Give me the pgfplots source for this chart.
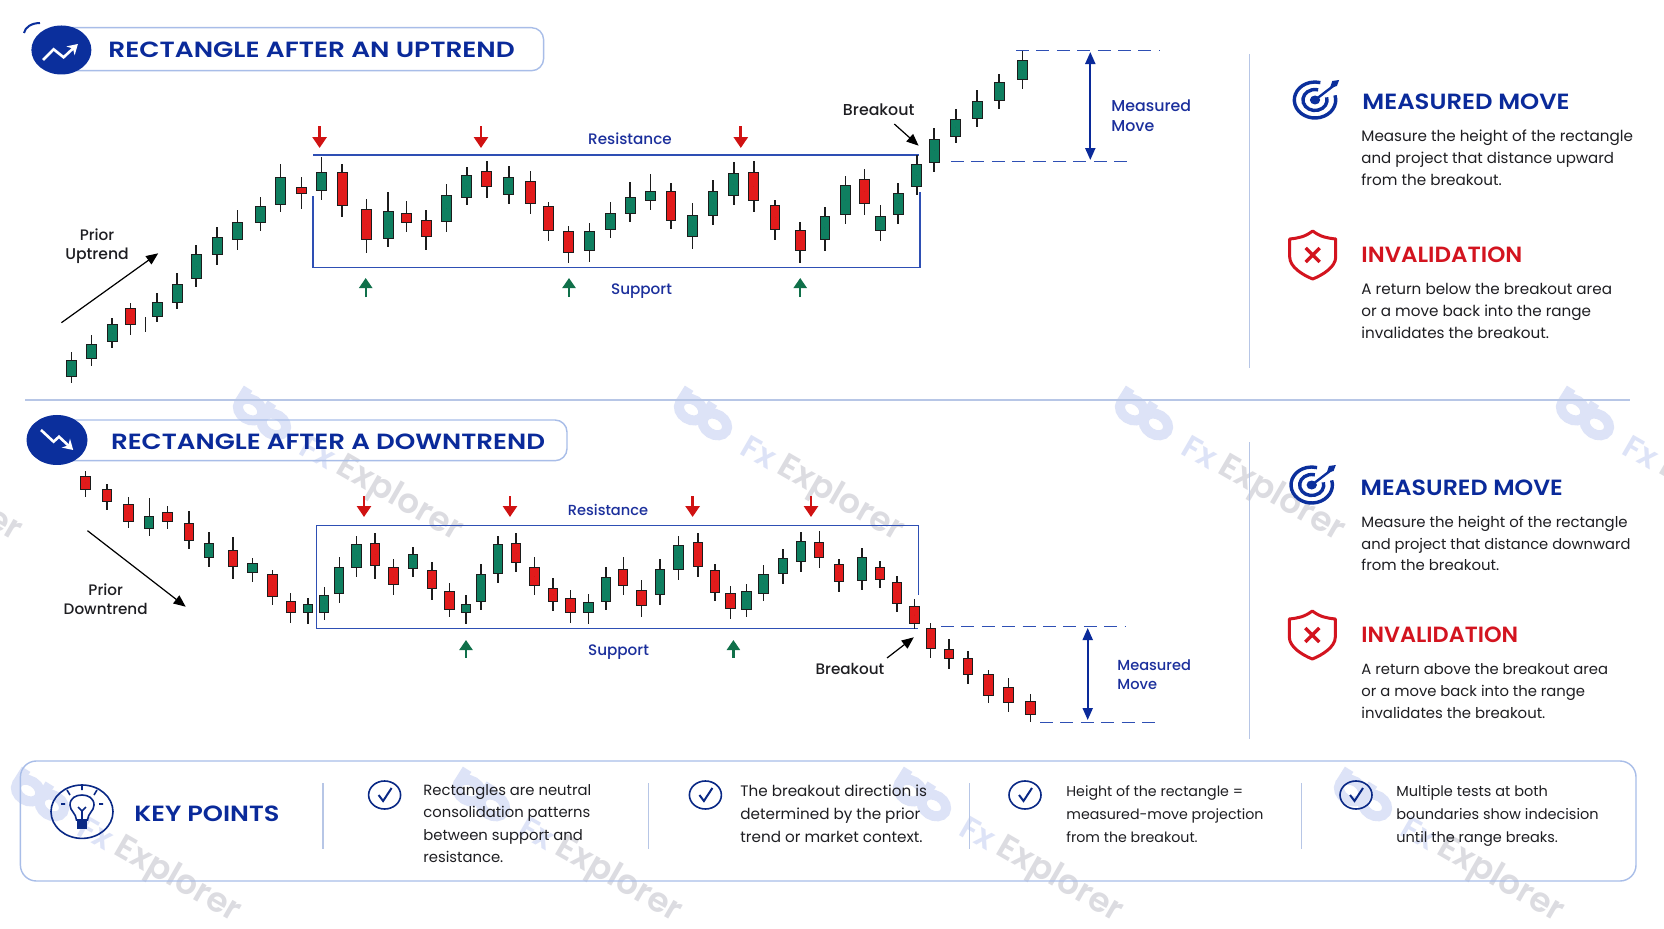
\documentclass[border=0pt]{standalone}
\usepackage{fontspec}
\setmainfont{Poppins}
\newfontfamily\popm{Poppins Medium}
\newfontfamily\pops{Poppins SemiBold}
\usepackage{graphicx}
\usepackage{pgfplots}
\usepackage{pgfplotstable}
\pgfplotsset{compat=1.18}
\usetikzlibrary{arrows.meta}
\definecolor{cgreen}{HTML}{0F7F60}
\definecolor{cred}{HTML}{E21B1B}
\definecolor{cwick}{HTML}{1C1C1C}
\definecolor{navy}{HTML}{0A2A9A}
\definecolor{navyd}{HTML}{0B2F9C}
\definecolor{rectb}{HTML}{2E4FB4}
\definecolor{pill}{HTML}{A8BDE8}
\definecolor{sep}{HTML}{B7C6E6}
\definecolor{arrred}{HTML}{D01212}
\definecolor{arrgrn}{HTML}{10704A}
\definecolor{lbl}{HTML}{1B2F9C}
\definecolor{invred}{HTML}{D3141F}
\definecolor{wmblue}{HTML}{DDE3F7}
\definecolor{wmgrey}{HTML}{DCDCE1}
\definecolor{txt}{HTML}{1E1E22}

% x wt bt bb wb c   (c: 0 green, 1 red, 2 wick only); read in zoomed pixels
\pgfplotstableread{
x wt bt bb wb c
200 1055 1080 1130 1150 0
256 1005 1032 1076 1097 0
314 953 972 1027 1045 0
366 908 925 975 1006 1
408 950 970 975 997 2
440 878 905 952 967 0
496 818 851 908 928 0
549 735 763 838 862 0
608 681 711 766 795 0
665 630 667 719 750 0
730 590 618 668 693 0
786 492 530 614 637 0
844 531 560 582 628 1
900 472 515 572 599 0
958 492 517 617 651 1
1026 596 627 720 760 1
1087 575 634 716 740 0
1138 602 639 668 696 1
1193 630 660 711 750 1
1250 551 585 667 697 0
1307 500 526 593 614 0
1363 482 512 562 593 1
1425 497 530 585 613 0
1486 514 542 613 643 1
}\tA
\pgfplotstableread{
x wt bt bb wb c
20 516 529 603 632 1
66 587 603 668 700 1
114 580 603 664 696 0
162 517 548 600 625 0
208 457 500 551 576 0
255 432 484 512 539 0
302 459 484 572 596 1
352 519 556 622 656 0
399 450 484 559 585 0
447 395 430 498 524 0
493 392 427 513 547 1
542 510 525 600 630 1
600 575 600 664 698 1
657 530 558 629 662 0
705 438 465 555 581 0
748 416 447 523 555 1
785 525 557 602 633 0
826 459 488 555 581 0
869 375 403 470 496 0
909 293 326 398 427 0
959 238 266 320 340 0
1008 180 212 266 290 0
1059 132 156 213 236 0
1113 62 91 150 178 0
}\tB
\pgfplotstableread{
x wt bt bb wb c
239 212 228 269 290 1
300 251 268 306 330 1
360 290 312 367 385 1
418 295 347 388 407 0
469 317 335 367 388 1
529 333 368 422 448 1
585 396 429 473 502 0
653 410 449 500 538 1
707 474 490 518 545 0
763 511 523 591 616 1
814 580 604 640 668 1
862 594 612 640 671 0
908 560 585 638 661 0
950 472 501 582 608 0
998 408 432 503 530 0
1050 400 430 497 537 1
1102 478 501 555 586 1
1157 441 463 506 530 0
1209 487 510 567 600 1
1259 550 574 629 651 1
1305 584 611 640 672 0
1347 492 523 607 631 0
1394 408 432 523 550 0
1445 400 428 490 516 1
1497 470 500 559 586 1
}\tC
\pgfplotstableread{
x wt bt bb wb c
30 413 444 485 513 1
70 449 473 520 549 1
112 461 487 520 551 0
152 380 411 487 510 0
192 352 387 438 466 1
234 421 451 499 531 1
277 358 388 466 494 0
319 288 316 391 419 0
364 280 307 380 410 1
403 372 391 459 482 1
439 439 459 506 537 1
476 431 454 510 531 0
515 375 402 461 484 0
560 328 355 403 433 0
602 276 304 367 396 0
644 274 305 354 383 1
689 357 372 425 455 1
743 325 351 424 449 0
784 362 381 420 445 1
823 408 425 492 516 1
864 476 498 552 568 1
901 550 563 628 654 1
943 598 627 656 687 1
987 632 654 706 731 1
1034 689 703 769 790 1
1080 715 740 789 815 1
1131 762 783 826 846 1
}\tD

\pgfplotsset{nomark/.style={forget plot,only marks,mark size=0pt,mark options={draw=none,fill=none},
  error bars/.cd,y dir=both,y explicit,error mark=none}}
% #1 table, #2 x offset, #3 y offset, #4 x scale, #5 body width in pt
\newcommand\candles[5]{%
\addplot[nomark,/pgfplots/error bars/error bar style={line width=0.75pt,color=cwick}]
  table[x expr=#2+\thisrow{x}/#4,y expr=#3+(\thisrow{wt}+\thisrow{wb})/6,y error expr=(\thisrow{wb}-\thisrow{wt})/6]{#1};
\addplot[restrict expr to domain={\thisrow{c}}{0:1},nomark,/pgfplots/error bars/error bar style={line width=#5,color=cwick}]
  table[x expr=#2+\thisrow{x}/#4,y expr=#3+(\thisrow{bt}+\thisrow{bb})/6,y error expr=(\thisrow{bb}-\thisrow{bt})/6]{#1};
\addplot[restrict expr to domain={\thisrow{c}}{0:0},nomark,/pgfplots/error bars/error bar style={line width=#5-1pt,color=cgreen}]
  table[x expr=#2+\thisrow{x}/#4,y expr=#3+(\thisrow{bt}+\thisrow{bb})/6,y error expr=(\thisrow{bb}-\thisrow{bt})/6-1]{#1};
\addplot[restrict expr to domain={\thisrow{c}}{1:1},nomark,/pgfplots/error bars/error bar style={line width=#5-1pt,color=cred}]
  table[x expr=#2+\thisrow{x}/#4,y expr=#3+(\thisrow{bt}+\thisrow{bb})/6,y error expr=(\thisrow{bb}-\thisrow{bt})/6-1]{#1};
}
\newcommand\seg[2]{\addplot[forget plot,#1] coordinates {#2};}
\newcommand\tbl[4][]{\node[anchor=base west,inner sep=0pt,#1] at (axis cs:#2,#3) {#4};}
\newcommand\tcl[4][]{\node[anchor=base,inner sep=0pt,#1] at (axis cs:#2,#3) {#4};}
\newcommand\fs[1]{\fontsize{#1pt}{#1pt}\selectfont}
\newcommand\sx[2]{\scalebox{#1}[1]{#2}}
\tikzset{
  rarr/.style={draw=arrred,fill=arrred,line width=1.4pt,-{Triangle[length=5.5pt,width=7pt]}},
  garr/.style={draw=arrgrn,fill=arrgrn,line width=1.1pt,-{Triangle[length=5pt,width=6.5pt]}},
  barr/.style={draw=black,fill=black,line width=.6pt,-{Triangle[length=6pt,width=5pt]}},
  darr/.style={draw=navy,fill=navy,line width=1pt,{Triangle[length=6pt,width=5pt]}-{Triangle[length=6pt,width=5pt]}},
  dsh/.style={draw=rectb,line width=.6pt,dash pattern=on 6.5pt off 3.7pt},
  rct/.style={draw=rectb,line width=.75pt},
}
\newcommand\wm[2]{% logo centre
 \begin{scope}[shift={(#1,#2)},rotate=-32]
  \draw[wmblue,line width=5pt] (-14,0) ellipse (13 and 10);
  \draw[wmblue,line width=5pt] (14,0) ellipse (13 and 10);
  \draw[wmblue,line width=5pt] (-27,0) -- (-27,-17);
  \draw[wmblue,line width=5pt] (1,0) -- (1,-17);
 \end{scope}
 \node[rotate=-30,text=wmblue,inner sep=0] at (#1+56,#2+35) {\pops\fs{16}Fx};
 \node[rotate=-30,text=wmgrey,inner sep=0] at (#1+137,#2+83) {\pops\fs{17}Explorer};
}
\newcommand\target[2]{%
 \begin{scope}[shift={(#1,#2)},xscale=1.15]
  \draw[navyd,line width=1.7pt] (-15:18) arc[start angle=-15,end angle=285,radius=18];
  \draw[navyd,line width=1.7pt] (-15:10.5) arc[start angle=-15,end angle=285,radius=10.5];
  \fill[navyd] (0,0) circle (4.5);
  \draw[navyd,line width=1.2pt] (0,0) -- (17,-15);
  \fill[navyd] (13,-12) -- (15,-19) -- (21,-20) -- (19,-14) -- cycle;
 \end{scope}}
\newcommand\shield[2]{%
 \begin{scope}[shift={(#1,#2)}]
  \draw[invred,line width=1.5pt,line join=round] (0,-24) .. controls (-8,-18) and (-14,-17) .. (-23,-16) -- (-23,2) .. controls (-23,12) and (-10,20) .. (0,24) .. controls (10,20) and (23,12) .. (23,2) -- (23,-16) .. controls (14,-17) and (8,-18) .. (0,-24) -- cycle;
  \draw[invred,line width=1.7pt] (-7,-7) -- (7,7) (-7,7) -- (7,-7);
 \end{scope}}
\newcommand\chk[2]{%
 \begin{scope}[shift={(#1,#2)}]
  \draw[navyd!85!black,line width=.8pt] (0,0) ellipse (16 and 14);
  \draw[navyd!85!black,line width=1pt] (-6,0) -- (-1.5,6) -- (7,-7);
 \end{scope}}
\begin{document}
\begin{tikzpicture}
\useasboundingbox (0,0) rectangle (832pt,464pt);
\fill[white] (0,0) rectangle (832pt,464pt);
% watermark beneath everything
\begin{scope}
\clip (0,0) rectangle (832pt,464pt);
\begin{scope}[shift={(0,464pt)},x=.5pt,y=-.5pt]
\foreach \a in {-179,262,703,1144,1585} {\wm{\a}{417}}
\foreach \a in {40,481,922,1363} {\wm{\a}{798}}
\end{scope}
\end{scope}
\begin{axis}[at={(0,0)},anchor=south west,scale only axis,width=832pt,height=464pt,
  xmin=0,xmax=1664,ymin=0,ymax=928,y dir=reverse,hide axis,clip=false]
% ---- frames
\seg{draw=sep,line width=.6pt}{(25,400) (1630,400)}
\seg{draw=sep,line width=.6pt}{(1249.5,54) (1249.5,368)}
\seg{draw=sep,line width=.6pt}{(1249.5,442) (1249.5,739)}
% ---- upper pattern
\seg{rct}{(313,155) (919,155)}
\seg{rct}{(313,196) (313,267.3) (920,267.3) (920,191.7)}
\candles{\tA}{0}{0}{2.8}{5.5pt}
\candles{\tB}{540}{30}{2.306}{5.4pt}
\seg{rarr}{(319.6,126) (319.6,148)}
\seg{rarr}{(481,126) (481,148)}
\seg{rarr}{(740.8,126) (740.8,148)}
\seg{garr}{(365.7,297) (365.7,278)}
\seg{garr}{(569,297) (569,278)}
\seg{garr}{(800.2,297) (800.2,278)}
\seg{barr}{(61.4,322.7) (158.2,253.3)}
\seg{barr}{(894.3,124) (918.6,145.7)}
\seg{darr}{(1090.3,52) (1090.3,160)}
\seg{dsh}{(1016,50.8) (1160,50.8)}
\seg{dsh}{(951,161.3) (1130,161.3)}
\tcl[text=lbl]{630}{144.5}{\popm\fs{7.6}Resistance}
\tcl[text=lbl]{641.5}{294.5}{\popm\fs{7.6}Support}
\tcl[text=txt]{878.7}{115.5}{\popm\fs{7.9}Breakout}
\tbl[text=lbl]{1111}{111}{\popm\fs{7.9}Measured}
\tbl[text=lbl]{1111}{131}{\popm\fs{7.9}Move}
\tcl[text=txt]{97}{240}{\popm\fs{7.6}Prior}
\tcl[text=txt]{97}{259.5}{\popm\fs{7.8}Uptrend}
% ---- lower pattern
\seg{rct}{(316.4,598) (316.4,525.3) (918.6,525.3) (918.6,595)}
\seg{rct}{(316.4,588) (316.4,628.7) (918,628.7)}
\candles{\tC}{0}{400}{2.8}{5.2pt}
\candles{\tD}{540}{440}{2.306}{5.2pt}
\seg{rarr}{(364,496) (364,517)}
\seg{rarr}{(510,496) (510,517)}
\seg{rarr}{(692.6,496) (692.6,517)}
\seg{rarr}{(811,496) (811,517)}
\seg{garr}{(466,657.7) (466,640)}
\seg{garr}{(733.4,657.7) (733.4,640)}
\seg{barr}{(87.5,530.7) (185.7,606.7)}
\seg{barr}{(887,658) (913.8,637.3)}
\seg{darr}{(1087.7,628) (1087.7,720)}
\seg{dsh}{(941,626.7) (1126,626.7)}
\seg{dsh}{(1040,722.2) (1159,722.2)}
\tcl[text=lbl]{608}{515}{\popm\fs{7.3}Resistance}
\tcl[text=lbl]{618.5}{655}{\popm\fs{7.6}Support}
\tcl[text=txt]{850}{674.5}{\popm\fs{7.6}Breakout}
\tbl[text=lbl]{1117}{670}{\popm\fs{7.3}Measured}
\tbl[text=lbl]{1117}{689}{\popm\fs{7.3}Move}
\tcl[text=txt]{105.7}{595.5}{\popm\fs{7.6}Prior}
\tcl[text=txt]{105.7}{614}{\popm\fs{7.6}Downtrend}
% ---- right panels
\tbl[text=navy]{1362}{109.5}{\pops\fs{11}\sx{1.107}{MEASURED MOVE}}
\tbl[text=txt]{1361}{141}{\fs{7.6}Measure the height of the rectangle}
\tbl[text=txt]{1361}{163}{\fs{7.5}and project that distance upward}
\tbl[text=txt]{1361}{185}{\fs{7.6}from the breakout.}
\tbl[text=invred]{1361}{262}{\pops\fs{11}\sx{1.047}{INVALIDATION}}
\tbl[text=txt]{1361}{294.5}{\fs{7.6}A return below the breakout area}
\tbl[text=txt]{1361}{316}{\fs{7.6}or a move back into the range}
\tbl[text=txt]{1361}{338}{\fs{7.6}invalidates the breakout.}
\tbl[text=navy]{1360.3}{495}{\pops\fs{11}\sx{1.08}{MEASURED MOVE}}
\tbl[text=txt]{1361}{527.5}{\fs{7.45}Measure the height of the rectangle}
\tbl[text=txt]{1361}{549}{\fs{7.35}and project that distance downward}
\tbl[text=txt]{1361}{570}{\fs{7.45}from the breakout.}
\tbl[text=invred]{1361}{642.7}{\pops\fs{11}\sx{1.02}{INVALIDATION}}
\tbl[text=txt]{1361}{674.5}{\fs{7.4}A return above the breakout area}
\tbl[text=txt]{1361}{696}{\fs{7.4}or a move back into the range}
\tbl[text=txt]{1361}{718}{\fs{7.45}invalidates the breakout.}
% ---- key points
\seg{draw=sep,line width=.6pt}{(323,783) (323,849)}
\seg{draw=sep,line width=.6pt}{(648.6,783) (648.6,849)}
\seg{draw=sep,line width=.6pt}{(969.3,783) (969.3,849)}
\seg{draw=sep,line width=.6pt}{(1301.4,783) (1301.4,849)}
\tbl[text=navy]{134}{821}{\pops\fs{11}\sx{1.165}{KEY POINTS}}
\tbl[text=txt]{423}{795}{\fs{7.4}Rectangles are neutral}
\tbl[text=txt]{423}{817.5}{\fs{7.4}consolidation patterns}
\tbl[text=txt]{423}{840}{\fs{7.4}between support and}
\tbl[text=txt]{423}{862.5}{\fs{7.4}resistance.}
\tbl[text=txt]{740}{796.5}{\fs{7.6}The breakout direction is}
\tbl[text=txt]{740}{819.5}{\fs{7.6}determined by the prior}
\tbl[text=txt]{740}{842}{\fs{7.6}trend or market context.}
\tbl[text=txt]{1066}{796.5}{\fs{7.1}Height of the rectangle =}
\tbl[text=txt]{1066}{819.5}{\fs{7.1}measured-move projection}
\tbl[text=txt]{1066}{842}{\fs{7.1}from the breakout.}
\tbl[text=txt]{1396}{796.5}{\fs{7.25}Multiple tests at both}
\tbl[text=txt]{1396}{819.5}{\fs{7.25}boundaries show indecision}
\tbl[text=txt]{1396}{842}{\fs{7.25}until the range breaks.}
\tbl[text=navy]{108}{57.5}{\pops\fs{11}\sx{1.2}{RECTANGLE AFTER AN UPTREND}}
\tbl[text=navy]{110.7}{449}{\pops\fs{11}\sx{1.187}{RECTANGLE AFTER A DOWNTREND}}
\end{axis}
% ---- icons and frames
\begin{scope}[shift={(0,464pt)},x=.5pt,y=-.5pt]
\draw[pill,line width=.7pt,rounded corners=8pt] (20.4,761) rectangle (1636,881);
\draw[pill,line width=.7pt,rounded corners=6pt] (60,27.7) -- (543.6,27.7) -- (543.6,70.7) -- (60,70.7);
\draw[pill,line width=.7pt,rounded corners=6pt] (60,420) -- (567,420) -- (567,460.7) -- (60,460.7);
\fill[navyd] (61.4,50) ellipse (30 and 24.5);
\draw[navyd,line width=1pt] (24,33) .. controls (25,27) and (32,23) .. (40,23);
\draw[white,line width=1.3pt,-{Stealth[length=5pt,width=6pt]}] (43,60) -- (53.6,49.3) -- (63.6,57.3) -- (77.9,44);
\fill[navyd] (57,440) ellipse (30.5 and 25);
\draw[white,line width=1.3pt,-{Stealth[length=5pt,width=6pt]}] (41,430) -- (53.6,441.7) -- (59,436.7) -- (73.2,450);
\target{1315}{100}
\target{1311.7}{485}
\shield{1312.7}{255}
\shield{1312.3}{635}
\chk{384.6}{795}
\chk{705.4}{795}
\chk{1025}{795}
\chk{1356}{795}
% bulb
\draw[navyd!85!black,line width=.8pt] (82,811.7) ellipse (31 and 26.7);
\draw[navyd!85!black,line width=.8pt] (76.5,820) .. controls (76,813) and (70,811) .. (70,805) .. controls (70,798) and (76,795) .. (82,795) .. controls (88,795) and (94,798) .. (94,805) .. controls (94,811) and (88,813) .. (87.5,820) -- cycle;
\draw[navyd!85!black,line width=.8pt] (78,807) -- (82,811) -- (86,807) (82,811) -- (82,820);
\fill[navyd!85!black] (77,821) rectangle (87,829);
\draw[navyd!85!black,line width=.8pt] (82,784) -- (82,790) (67,790) -- (70,795) (97,790) -- (94,795) (61,804) -- (65,804) (99,804) -- (103,804);
\end{scope}
\end{tikzpicture}
\end{document}
